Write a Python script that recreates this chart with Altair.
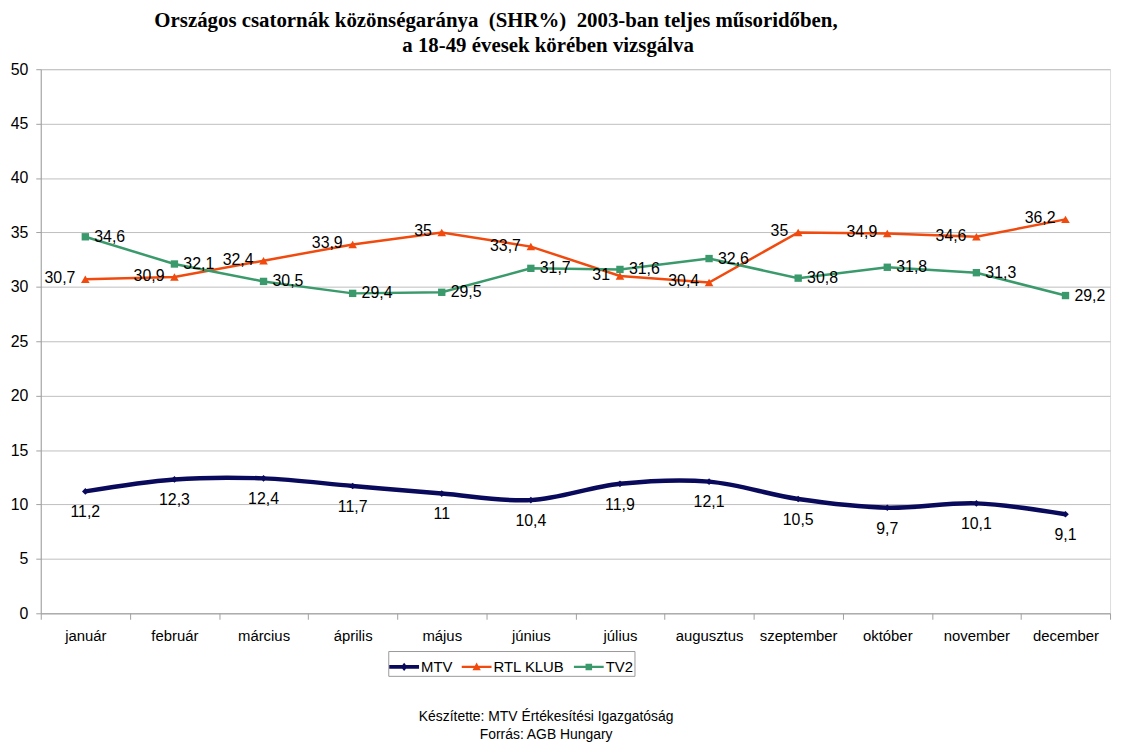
import altair as alt
import pandas as pd

months = ["január", "február", "március", "április", "május", "június",
          "július", "augusztus", "szeptember", "október", "november", "december"]
series_names = ["MTV", "RTL KLUB", "TV2"]
mtv = [11.2, 12.3, 12.4, 11.7, 11.0, 10.4, 11.9, 12.1, 10.5, 9.7, 10.1, 9.1]
rtl = [30.7, 30.9, 32.4, 33.9, 35.0, 33.7, 31.0, 30.4, 35.0, 34.9, 34.6, 36.2]
tv2 = [34.6, 32.1, 30.5, 29.4, 29.5, 31.7, 31.6, 32.6, 30.8, 31.8, 31.3, 29.2]
colors = ["#0A0A5C", "#F04A0E", "#3A9A6B"]
title_line1 = "Országos csatornák közönségaránya\u00a0\u00a0(SHR%)\u00a0\u00a02003-ban teljes műsoridőben,"
title_line2 = "a 18-49 évesek körében vizsgálva"
footer_lines = ["Készítette: MTV Értékesítési Igazgatóság", "Forrás: AGB Hungary"]

rows = []
for name, vals in zip(series_names, [mtv, rtl, tv2]):
    for m, v in zip(months, vals):
        rows.append({"month": m, "series": name, "value": v,
                     "label": f"{v:g}".replace(".", ",")})
df = pd.DataFrame(rows)

SANS = "Liberation Sans"
color_of = dict(zip(series_names, colors))
legend_paths = [
    "M-1,-0.13 L1,-0.13 L1,0.13 L-1,0.13 Z M0,-0.28 L0.22,0 L0,0.28 L-0.22,0 Z",
    "M-1,-0.08 L1,-0.08 L1,0.08 L-1,0.08 Z M0,-0.3 L0.28,0.22 L-0.28,0.22 Z",
    "M-1,-0.08 L1,-0.08 L1,0.08 L-1,0.08 Z M-0.22,-0.22 L0.22,-0.22 L0.22,0.22 L-0.22,0.22 Z",
]

x_enc = alt.X("month:N", sort=months, title=None,
              scale=alt.Scale(type="band", paddingInner=0, paddingOuter=0),
              axis=alt.Axis(labelAngle=0, tickBand="extent", tickSize=6, labelFontSize=15,
                            labelFont=SANS, labelColor="#000000", labelPadding=9,
                            domainColor="#A0A0A0", tickColor="#A0A0A0", grid=False))
y_enc = alt.Y("value:Q", title=None,
              scale=alt.Scale(domain=[0, 50], nice=False),
              axis=alt.Axis(values=list(range(0, 51, 5)), tickSize=5, labelFontSize=16,
                            labelFont=SANS, labelColor="#000000", labelPadding=8,
                            domainColor="#A0A0A0", tickColor="#A0A0A0",
                            gridColor="#BEBEBE", gridWidth=1))

base = alt.Chart(df).encode(x=x_enc, y=y_enc)

def sel(name):
    return base.transform_filter(alt.datum.series == name)

# legend carrier: tiny points hidden under the lines
leg = alt.Legend(title=None, orient="none", legendX=350, legendY=586, direction="horizontal",
                 symbolSize=900, symbolStrokeWidth=0, symbolOpacity=1,
                 labelFontSize=15, labelFont=SANS, labelColor="#000000", labelOffset=2,
                 columnPadding=9, strokeColor="#999999", padding=1, fillColor="#FFFFFF")
legend_layer = base.mark_point(filled=True, size=1).encode(
    color=alt.Color("series:N", scale=alt.Scale(domain=series_names, range=colors), legend=leg),
    shape=alt.Shape("series:N", scale=alt.Scale(domain=series_names, range=legend_paths), legend=leg),
)

line_mtv = sel("MTV").mark_line(strokeWidth=4.5, interpolate="catmull-rom", color=color_of["MTV"])
line_rtl = sel("RTL KLUB").mark_line(strokeWidth=2.5, color=color_of["RTL KLUB"])
line_tv2 = sel("TV2").mark_line(strokeWidth=2.5, color=color_of["TV2"])

pt_mtv = sel("MTV").mark_point(shape="diamond", filled=True, size=45, opacity=1, color=color_of["MTV"])
pt_rtl = sel("RTL KLUB").mark_point(shape="triangle-up", filled=True, size=75, opacity=1, color=color_of["RTL KLUB"])
pt_tv2 = sel("TV2").mark_point(shape="square", filled=True, size=55, opacity=1, color=color_of["TV2"])

txt_kw = dict(font=SANS, fontSize=16, color="#000000")
tx_mtv = sel("MTV").mark_text(align="center", baseline="middle", dy=21, **txt_kw).encode(text="label:N")
tx_rtl = sel("RTL KLUB").mark_text(align="right", baseline="middle", dx=-10, dy=-1, **txt_kw).encode(text="label:N")
tx_tv2 = sel("TV2").mark_text(align="left", baseline="middle", dx=9, **txt_kw).encode(text="label:N")

title2 = alt.Chart(pd.DataFrame({"t": [title_line2]})).mark_text(
    font="Liberation Serif", fontSize=21, fontWeight="bold", color="#000000",
    align="center", baseline="alphabetic"
).encode(x=alt.value(511), y=alt.value(-17), text="t:N")

foot_df = pd.DataFrame({"t": footer_lines})
foot1 = alt.Chart(foot_df).transform_filter(alt.datum.t == footer_lines[0]).mark_text(
    font=SANS, fontSize=14, color="#000000", align="center", baseline="middle"
).encode(x=alt.value(509), y=alt.value(652), text="t:N")
foot2 = alt.Chart(foot_df).transform_filter(alt.datum.t == footer_lines[1]).mark_text(
    font=SANS, fontSize=14, color="#000000", align="center", baseline="middle"
).encode(x=alt.value(509), y=alt.value(671), text="t:N")

chart = alt.layer(
    legend_layer, line_rtl, line_tv2, line_mtv, pt_rtl, pt_tv2, pt_mtv, tx_mtv, tx_rtl, tx_tv2,
    title2, foot1, foot2
).properties(
    width=1077, height=548,
    title=alt.Title(title_line1, font="Liberation Serif", fontSize=21, fontWeight="bold",
                    color="#000000", anchor="middle", dx=-80, offset=5, frame="group"),
    autosize=alt.AutoSizeParams(type="none"),
    padding={"left": 33, "top": 59, "right": 7, "bottom": 130},
).configure_view(stroke="#A0A0A0", strokeWidth=1).configure(background="#FFFFFF")

chart.save("out.html", embed_options={"renderer": "svg", "actions": False})
